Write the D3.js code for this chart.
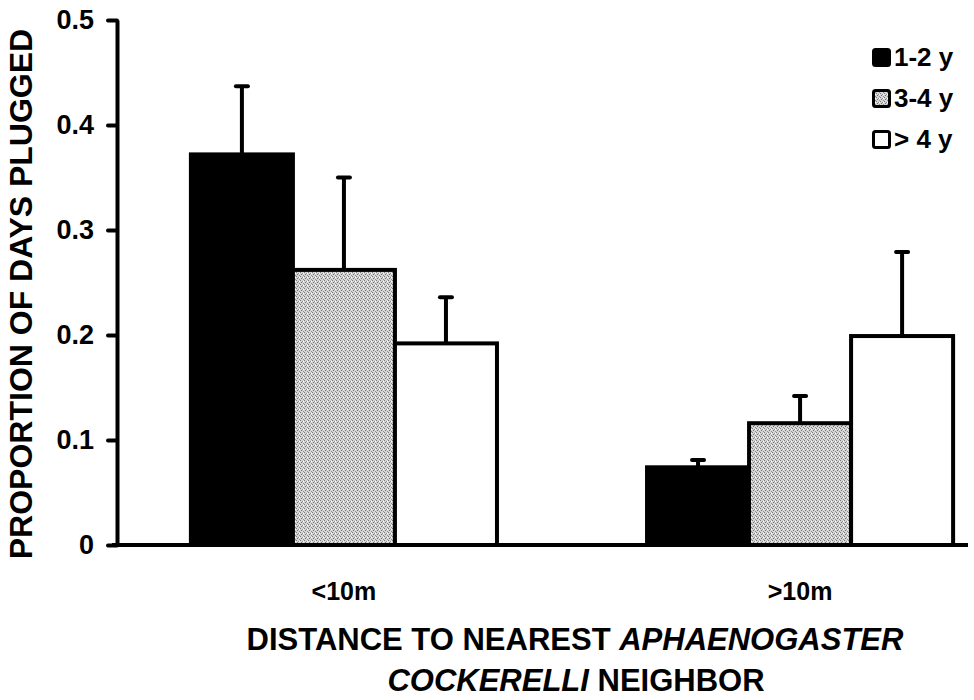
<!DOCTYPE html>
<html>
<head>
<meta charset="utf-8">
<script src="https://cdn.jsdelivr.net/npm/d3@7"></script>
<style>
  body { margin: 0; background: #fff; }
  svg text { font-family: "Liberation Sans", Arial, sans-serif; font-weight: bold; fill: #000; }
</style>
</head>
<body>
<div id="chart"></div>
<script>
// data
var groups = ["<10m", ">10m"];
var seriesNames = ["1-2 y", "3-4 y", "> 4 y"];
var mean12 = [0.372, 0.074];
var mean34 = [0.262, 0.116];
var mean4 = [0.192, 0.199];
var se12 = [0.065, 0.007];
var se34 = [0.088, 0.026];
var se4 = [0.044, 0.080];
var yTicks = [0, 0.1, 0.2, 0.3, 0.4, 0.5];

var means = [mean12, mean34, mean4], ses = [se12, se34, se4];
var fills = ["#000", "url(#stipple)", "#fff"];

var width = 974, height = 700;

var svg = d3.select("#chart")
  .append("svg")
    .attr("width", width)
    .attr("height", height);

// stippled grey fill for the middle series
var pat = svg.append("defs").append("pattern")
    .attr("id", "stipple")
    .attr("width", 4).attr("height", 4)
    .attr("patternUnits", "userSpaceOnUse");
pat.append("rect").attr("width", 4).attr("height", 4).attr("fill", "#d6d6d6");
pat.append("rect").attr("x", 0).attr("y", 0).attr("width", 1).attr("height", 1).attr("fill", "#7a7a7a");
pat.append("rect").attr("x", 2).attr("y", 1).attr("width", 1).attr("height", 1).attr("fill", "#8c8c8c");
pat.append("rect").attr("x", 1).attr("y", 2).attr("width", 1).attr("height", 1).attr("fill", "#6e6e6e");
pat.append("rect").attr("x", 3).attr("y", 3).attr("width", 1).attr("height", 1).attr("fill", "#909090");
pat.append("rect").attr("x", 3).attr("y", 1).attr("width", 1).attr("height", 1).attr("fill", "#fff");

var y = d3.scaleLinear()
  .domain([0, 0.5])
  .range([545, 20]);

var x = d3.scaleBand()
  .domain(groups)
  .range([117, 1027])
  .paddingInner(0.329)
  .paddingOuter(0.162);

var xs = d3.scaleBand()
  .domain(seriesNames)
  .range([0, x.bandwidth()]);

// rows of bar data
var rows = [];
groups.forEach(function (g, gi) {
  seriesNames.forEach(function (s, si) {
    rows.push({ group: g, series: s, value: means[si][gi], se: ses[si][gi], fill: fills[si] });
  });
});

function cx(d) { return x(d.group) + xs(d.series) + xs.bandwidth() / 2; }

// error bars first (under bar outlines)
var eb = svg.append("g");
eb.selectAll("line.stem")
  .data(rows)
  .enter()
  .append("line")
    .attr("x1", cx)
    .attr("x2", cx)
    .attr("y1", function (d) { return y(d.value); })
    .attr("y2", function (d) { return y(d.value + d.se); })
    .attr("stroke", "#000")
    .attr("stroke-width", 4);
eb.selectAll("line.cap")
  .data(rows)
  .enter()
  .append("line")
    .attr("x1", function (d) { return cx(d) - 6; })
    .attr("x2", function (d) { return cx(d) + 6; })
    .attr("y1", function (d) { return y(d.value + d.se); })
    .attr("y2", function (d) { return y(d.value + d.se); })
    .attr("stroke", "#000")
    .attr("stroke-width", 4)
    .attr("stroke-linecap", "round");

// bars
svg.append("g")
  .selectAll("rect")
  .data(rows)
  .enter()
  .append("rect")
    .attr("x", function (d) { return x(d.group) + xs(d.series); })
    .attr("y", function (d) { return y(d.value); })
    .attr("width", xs.bandwidth())
    .attr("height", function (d) { return y(0) - y(d.value); })
    .attr("fill", function (d) { return d.fill; })
    .attr("stroke", "#000")
    .attr("stroke-width", 4);

// y axis
var yAxis = svg.append("g")
  .attr("transform", "translate(117,0)")
  .call(d3.axisLeft(y)
    .tickValues(yTicks)
    .tickSize(9)
    .tickSizeOuter(0)
    .tickPadding(14)
    .tickFormat(function (d) { return d === 0 ? "0" : d.toFixed(1); }));
yAxis.select(".domain").attr("stroke", "#000").attr("stroke-width", 4);
yAxis.selectAll(".tick line").attr("stroke", "#000").attr("stroke-width", 4).attr("stroke-linecap", "round");
yAxis.selectAll(".tick text")
  .style("font-family", "Liberation Sans, Arial, sans-serif")
  .style("font-weight", "bold")
  .style("font-size", "27px")
  .attr("fill", "#000");

// baseline
svg.append("line")
  .attr("x1", 112).attr("x2", 968)
  .attr("y1", y(0)).attr("y2", y(0))
  .attr("stroke", "#000")
  .attr("stroke-width", 4);

// x category labels
var xAxis = svg.append("g")
  .attr("transform", "translate(0," + y(0) + ")")
  .call(d3.axisBottom(x).tickSize(0).tickPadding(37));
xAxis.select(".domain").remove();
xAxis.selectAll(".tick text")
  .style("font-family", "Liberation Sans, Arial, sans-serif")
  .style("font-weight", "bold")
  .style("font-size", "25px")
  .attr("fill", "#000");

// y title
svg.append("text")
  .attr("transform", "translate(32,294) rotate(-90)")
  .attr("text-anchor", "middle")
  .style("font-size", "32px")
  .text("PROPORTION OF DAYS PLUGGED");

// x title, two lines
var t1 = svg.append("text")
  .attr("x", 575).attr("y", 650)
  .attr("text-anchor", "middle")
  .style("font-size", "31px");
t1.append("tspan").text("DISTANCE TO NEAREST ");
t1.append("tspan").style("font-style", "italic").text("APHAENOGASTER");

var t2 = svg.append("text")
  .attr("x", 576).attr("y", 691)
  .attr("text-anchor", "middle")
  .style("font-size", "31px");
t2.append("tspan").style("font-style", "italic").text("COCKERELLI");
t2.append("tspan").text(" NEIGHBOR");

// legend
var legend = svg.append("g")
  .attr("transform", "translate(872,48)");
var li = legend.selectAll("g")
  .data(seriesNames)
  .enter()
  .append("g")
    .attr("transform", function (d, i) { return "translate(0," + (i * 41) + ")"; });
li.append("rect")
  .attr("x", 1.5).attr("y", 1.5)
  .attr("width", 16).attr("height", 16)
  .attr("rx", 2)
  .attr("fill", function (d, i) { return fills[i]; })
  .attr("stroke", "#000")
  .attr("stroke-width", 3);
li.append("text")
  .attr("x", 22).attr("y", 18)
  .style("font-size", "26px")
  .text(function (d) { return d; });
</script>
</body>
</html>
